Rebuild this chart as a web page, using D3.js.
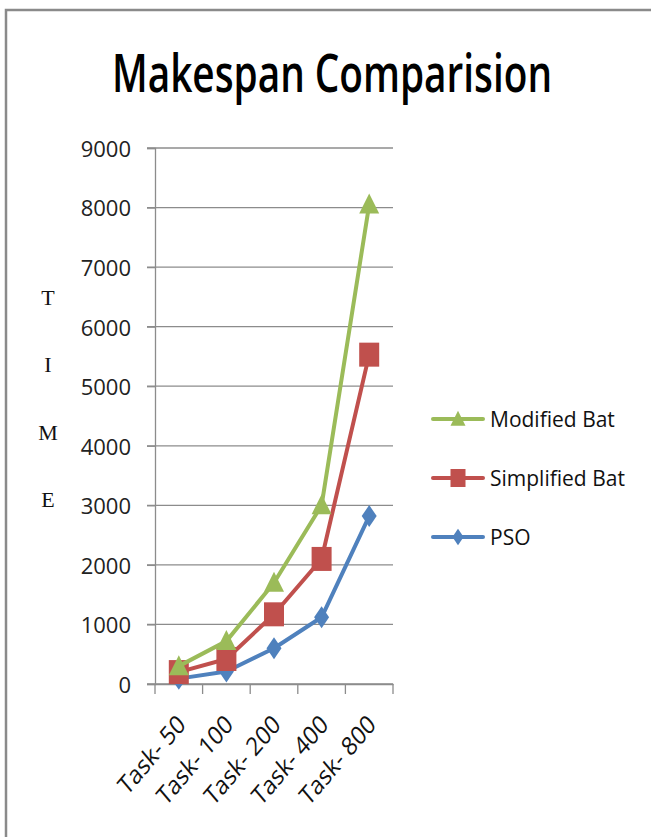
<!DOCTYPE html>
<html><head><meta charset="utf-8">
<script src="https://cdn.jsdelivr.net/npm/d3@7"></script>
<style>html,body{margin:0;padding:0;background:#fff;overflow:hidden}</style>
</head><body>
<svg id="c" width="651" height="837"></svg>
<script>
const categories = ["Task- 50","Task- 100","Task- 200","Task- 400","Task- 800"];
const modifiedBat = [300, 720, 1700, 3000, 8050];
const simplifiedBat = [200, 420, 1170, 2100, 5530];
const pso = [90, 210, 600, 1120, 2820];
const yTicks = [0,1000,2000,3000,4000,5000,6000,7000,8000,9000];
const seriesNames = ["Modified Bat","Simplified Bat","PSO"];
const seriesColors = ["#9BBB59","#C0504D","#4F81BD"];
const seriesShapes = ["triangle","square","diamond"];
const yLabel = ["T","I","M","E"];

const svg = d3.select("#c");
const font = "'Open Sans', 'Liberation Sans', sans-serif";

// border
svg.append("path").attr("d","M6,837 V10 H651").attr("fill","none").attr("stroke","#8a8a8a").attr("stroke-width",2.5);

// title
svg.append("text").attr("transform","translate(112,92) scale(1,1.18)").attr("font-family",font).attr("font-weight",600)
  .attr("font-size",44).attr("textLength",440).attr("lengthAdjust","spacingAndGlyphs")
  .attr("fill","#000").text("Makespan Comparision");

const x = d3.scaleBand().domain(categories).range([155,393]);
const y = d3.scaleLinear().domain([0,9000]).range([684,148]);

// gridlines
svg.append("g").selectAll("line").data(yTicks).join("line")
  .attr("x1",147).attr("x2",393).attr("y1",d=>y(d)).attr("y2",d=>y(d))
  .attr("stroke","#8c8c8c").attr("stroke-width",1.3);

// y axis
const ya = svg.append("g").attr("transform","translate(155,0)")
  .call(d3.axisLeft(y).tickValues(yTicks).tickSize(8).tickPadding(16).tickFormat(d3.format("d")));
ya.select(".domain").attr("stroke","#8c8c8c").attr("stroke-width",1.3);
ya.selectAll(".tick line").attr("stroke","#8c8c8c").attr("stroke-width",1.3);
ya.selectAll(".tick text").attr("font-family",font).attr("font-size",22).attr("fill","#222")
  .attr("dy","0.38em").attr("x",-24);

// x axis
const xa = svg.append("g").attr("transform","translate(0,684)")
  .call(d3.axisBottom(x).tickSize(0).tickFormat(""));
xa.select(".domain").attr("stroke","#8c8c8c").attr("stroke-width",1.3);
const xEdges = [155].concat(categories.map(c=>x(c)+x.bandwidth()));
svg.append("g").selectAll("line").data(xEdges).join("line")
  .attr("x1",d=>d).attr("x2",d=>d).attr("y1",684).attr("y2",694)
  .attr("stroke","#8c8c8c").attr("stroke-width",1.3);
svg.append("g").selectAll("text").data(categories).join("text")
  .attr("transform",d=>`translate(${x(d)+x.bandwidth()/2+8},${726}) scale(1,1.18) rotate(-45)`)
  .attr("text-anchor","end").attr("font-family",font).attr("font-size",22).attr("fill","#111")
  .text(d=>d);

// y label
svg.append("g").selectAll("text").data(yLabel).join("text")
  .attr("x",48).attr("y",(d,i)=>[305,372,440,507][i]).attr("text-anchor","middle")
  .attr("font-family","'Liberation Serif', 'DejaVu Serif', serif").attr("font-size",22).attr("fill","#111")
  .text(d=>d);

function marker(g, shape, color, cx, cy, s){
  if(shape==="triangle"){
    g.append("path").attr("d",`M${cx},${cy-11*s} L${cx+10*s},${cy+9*s} L${cx-10*s},${cy+9*s} Z`).attr("fill",color);
  } else if(shape==="square"){
    g.append("rect").attr("x",cx-10*s).attr("y",cy-12*s).attr("width",20*s).attr("height",24*s).attr("fill",color);
  } else {
    g.append("path").attr("d",`M${cx},${cy-11*s} L${cx+7.5*s},${cy} L${cx},${cy+11*s} L${cx-7.5*s},${cy} Z`).attr("fill",color);
  }
}

const allSeries = [modifiedBat, simplifiedBat, pso];
const line = d3.line().x((d,i)=>x(categories[i])+x.bandwidth()/2).y(d=>y(d));
[2,1,0].forEach(k=>{
  const g = svg.append("g");
  g.append("path").datum(allSeries[k]).attr("d",line).attr("fill","none")
    .attr("stroke",seriesColors[k]).attr("stroke-width",4).attr("stroke-linejoin","round");
  allSeries[k].forEach((v,i)=>marker(g, seriesShapes[k], seriesColors[k], x(categories[i])+x.bandwidth()/2, y(v), 1));
});

// legend
const legY = [419,478,537];
seriesNames.forEach((n,k)=>{
  const g = svg.append("g");
  g.append("line").attr("x1",433).attr("x2",483).attr("y1",legY[k]).attr("y2",legY[k])
    .attr("stroke",seriesColors[k]).attr("stroke-width",4).attr("stroke-linecap","round");
  marker(g, seriesShapes[k], seriesColors[k], 458, legY[k], 0.75);
  g.append("text").attr("x",490).attr("y",legY[k]).attr("dy","0.36em").attr("font-family",font)
    .attr("font-size",21).attr("fill","#111").text(n);
});
</script>
</body></html>
